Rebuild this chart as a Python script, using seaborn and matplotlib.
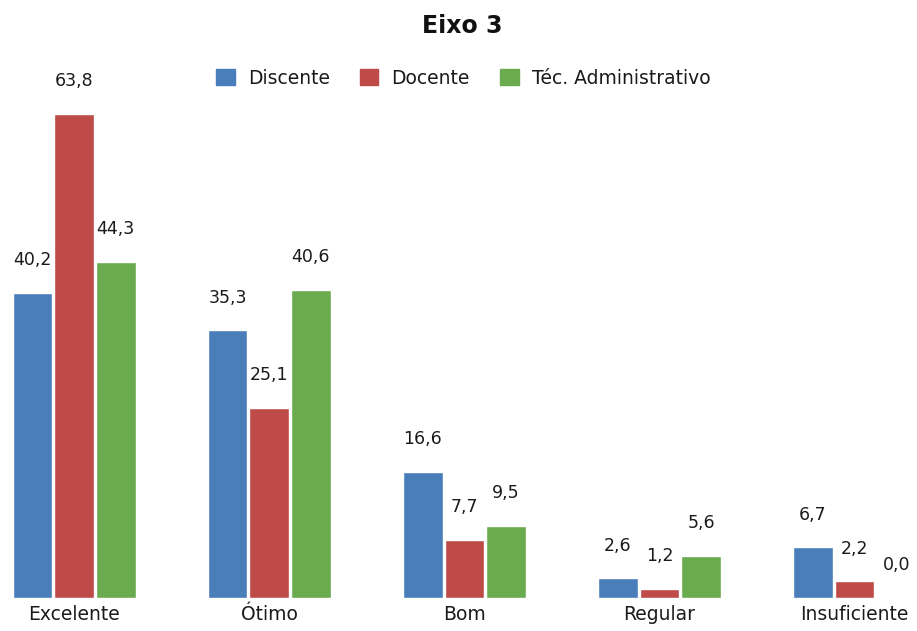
import numpy as np
import pandas as pd
import matplotlib as mpl
mpl.use('Agg')
import matplotlib.pyplot as plt
import seaborn as sns

# categorias e séries
categorias = ["Excelente", "Ótimo", "Bom", "Regular", "Insuficiente"]
grupos = ["Discente", "Docente", "Téc. Administrativo"]
discente = [40.2, 35.3, 16.6, 2.6, 6.7]
docente = [63.8, 25.1, 7.7, 1.2, 2.2]
tecnico = [44.3, 40.6, 9.5, 5.6, 0.0]

cores = ["#4A7EBB", "#BE4B48", "#6AAB4F"]

df = pd.DataFrame({
    "categoria": categorias * 3,
    "grupo": [grupos[0]] * 5 + [grupos[1]] * 5 + [grupos[2]] * 5,
    "valor": discente + docente + tecnico,
})

sns.set_style("white")
plt.rcParams['font.family'] = ['DejaVu Sans']

fig = plt.figure(figsize=(9.17, 6.31), dpi=100)
ax = fig.add_axes([0, 0.0523, 1, 0.8526])

sns.barplot(data=df, x="categoria", y="valor", hue="grupo", order=categorias,
            hue_order=grupos, palette=cores, width=0.64, gap=0.05,
            saturation=1, ax=ax, legend=False)

for cont in ax.containers:
    rotulos = [f"{b.get_height():.1f}".replace(".", ",") for b in cont]
    ax.bar_label(cont, labels=rotulos, padding=17, fontsize=12.5, color="#1a1a1a")

ax.set_xlim(-0.38, 4.32)
ax.set_ylim(0, 70.9)
ax.set_xlabel("")
ax.set_ylabel("")
ax.set_yticks([])
ax.tick_params(axis="x", length=0, labelsize=13.5, pad=5, colors="#1a1a1a")
sns.despine(ax=ax, left=True, bottom=True)

fig.suptitle("Eixo 3", x=0.504, y=0.978, fontsize=17, fontweight="bold", color="#111111")

handles = [mpl.patches.Patch(color=c) for c in cores]
fig.legend(handles, grupos, loc="center", bbox_to_anchor=(0.505, 1 - 78 / 631),
           ncol=3, frameon=False, fontsize=13.5, handlelength=1.0, handleheight=1.0,
           columnspacing=1.6, handletextpad=0.7, labelcolor="#1a1a1a")

plt.savefig("out.png", dpi=100)
